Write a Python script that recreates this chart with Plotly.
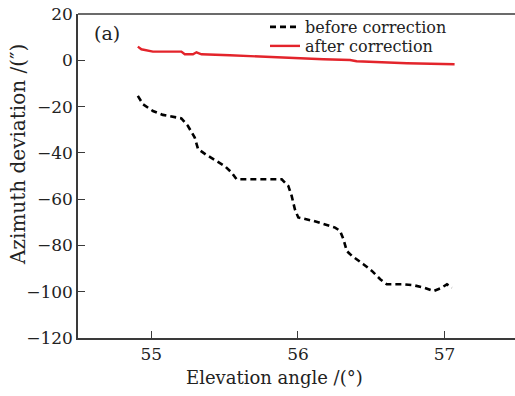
import plotly.graph_objects as go

# before correction (black dashed)
before_x = [54.908, 54.943, 55.011, 55.079, 55.205, 55.25, 55.296, 55.319, 55.376, 55.501,
            55.547, 55.581, 55.854, 55.889, 55.934, 55.957, 55.979, 56.002, 56.105, 56.253,
            56.287, 56.31, 56.333, 56.367, 56.446, 56.504, 56.561, 56.606, 56.72, 56.788,
            56.857, 56.925, 56.97, 57.016, 57.05]
before_y = [-15.4, -19.0, -21.9, -23.6, -25.1, -28.4, -33.4, -38.4, -40.9, -45.7,
            -48.5, -51.4, -51.4, -51.4, -54.3, -58.6, -64.4, -67.9, -69.4, -72.3,
            -73.7, -77.3, -82.4, -84.5, -88.1, -91.0, -94.6, -96.8, -96.8, -97.2,
            -98.2, -99.7, -98.6, -96.8, -98.2]

# after correction (red solid)
after_x = [54.908, 54.932, 55.011, 55.205, 55.228, 55.284, 55.308, 55.342, 55.535, 55.718,
           55.945, 56.173, 56.355, 56.40, 56.743, 57.04, 57.068]
after_y = [5.9, 4.75, 3.75, 3.75, 2.6, 2.6, 3.45, 2.6, 2.16, 1.6,
           1.15, 0.43, 0.13, -0.43, -1.3, -1.4, -1.7]

x_ticks = [55, 56, 57]
y_ticks = [20, 0, -20, -40, -60, -80, -100, -120]
y_tick_text = ["20", "0", "\u221220", "\u221240", "\u221260", "\u221280", "\u2212100", "\u2212120"]

FONT = "DejaVu Serif"
AXC = "#3a3a3a"
TXT = "#222"

W, H = 515, 396
ml, mr, mt, mb = 78, 0, 14, 58
PW, PH = W - ml - mr, H - mt - mb


def px_x(p):
    return (p - ml) / PW


def px_y(p):
    return 1 - (p - mt) / PH


fig = go.Figure()
fig.add_trace(go.Scatter(x=before_x, y=before_y, mode="lines", name="before correction",
                         legend="legend",
                         line=dict(color="black", width=2.6, dash="6px,4px")))
fig.add_trace(go.Scatter(x=after_x, y=after_y, mode="lines", name="after correction",
                         legend="legend2",
                         line=dict(color="#e3242b", width=2.4)))

leg_common = dict(xanchor="left", yanchor="top", bgcolor="rgba(0,0,0,0)",
                  font=dict(family=FONT, size=16, color=TXT))
fig.update_layout(
    width=W, height=H,
    margin=dict(l=ml, r=mr, t=mt, b=mb),
    paper_bgcolor="white", plot_bgcolor="white",
    font=dict(family=FONT, size=16, color=TXT),
    showlegend=True,
    legend=dict(x=px_x(265), y=px_y(10), **leg_common),
    legend2=dict(x=px_x(265), y=px_y(29), **leg_common),
    xaxis=dict(range=[54.5, 57.48], tickvals=x_ticks, ticks="inside", ticklen=7, tickwidth=1.3,
               tickcolor=AXC, showline=True, linecolor=AXC, linewidth=1.5, showgrid=False,
               zeroline=False, tickfont=dict(family=FONT, size=17, color=TXT)),
    yaxis=dict(range=[-120, 20], tickvals=y_ticks, ticktext=y_tick_text, ticks="inside",
               ticklen=7, tickwidth=1.3, tickcolor=AXC, showline=True, linecolor=AXC,
               linewidth=1.5, showgrid=False, zeroline=False,
               tickfont=dict(family=FONT, size=17, color=TXT)),
)
# top frame line
fig.add_shape(type="line", xref="paper", yref="paper", x0=0, x1=1, y0=1, y1=1,
              line=dict(color=AXC, width=1.5))

fig.add_annotation(text="(a)", xref="paper", yref="paper", x=px_x(107), y=px_y(33),
                   xanchor="center", yanchor="middle", showarrow=False,
                   font=dict(family=FONT, size=19, color=TXT))
fig.add_annotation(text="Elevation angle /(\u00b0)", xref="paper", yref="paper",
                   x=px_x(274), y=px_y(377), xanchor="center", yanchor="middle",
                   showarrow=False, font=dict(family=FONT, size=18, color=TXT))
fig.add_annotation(text="Azimuth deviation /(\u2033)", xref="paper", yref="paper",
                   x=px_x(18), y=px_y(155), xanchor="center", yanchor="middle",
                   textangle=-90, showarrow=False,
                   font=dict(family=FONT, size=20, color=TXT))

fig.write_html("out.html")
